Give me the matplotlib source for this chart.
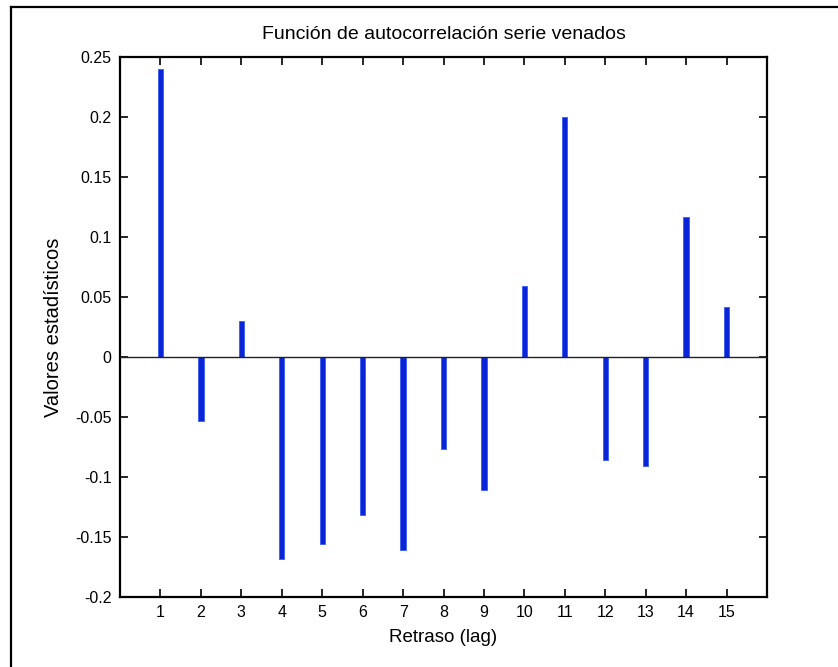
import numpy as np
import matplotlib
matplotlib.use('Agg')
import matplotlib.pyplot as plt
from matplotlib.lines import Line2D

# autocorrelation values
lags = [1, 2, 3, 4, 5, 6, 7, 8, 9, 10, 11, 12, 13, 14, 15]
acf = [0.240, -0.053, 0.030, -0.168, -0.156, -0.132, -0.161, -0.077,
       -0.111, 0.059, 0.200, -0.086, -0.091, 0.117, 0.042]
yticks = [-0.2, -0.15, -0.1, -0.05, 0, 0.05, 0.1, 0.15, 0.2, 0.25]
ylabels = ['-0.2', '-0.15', '-0.1', '-0.05', '0', '0.05', '0.1', '0.15', '0.2', '0.25']

plt.rcParams['font.family'] = ['Liberation Sans', 'DejaVu Sans']

fig = plt.figure(figsize=(8.38, 6.67), dpi=100)
ax = fig.add_axes([120/838, 1-597/667, (767-120)/838, (597-57)/667])

ax.bar(lags, acf, width=0.13, color='#0a24d8', edgecolor='#3a5cf5', linewidth=0.6, zorder=2)
ax.axhline(0, color='#222222', linewidth=1.0, zorder=3)

ax.set_xlim(0, 16)
ax.set_ylim(-0.2, 0.25)
ax.set_xticks(lags)
ax.set_yticks(yticks)
ax.set_yticklabels(ylabels)
ax.tick_params(direction='in', length=6, width=1.2, top=True, right=True,
               labelsize=11.5, pad=6, colors='black')
for s in ax.spines.values():
    s.set_linewidth(1.6)

ax.set_title('Función de autocorrelación serie venados', fontsize=14, pad=13)
ax.set_xlabel('Retraso (lag)', fontsize=13.5, labelpad=6)
ax.set_ylabel('Valores estadísticos', fontsize=14.5, labelpad=9)

# frame of the original figure (left and top edges only visible)
fig.add_artist(Line2D([11/838, 11/838], [0, 1-7/667], transform=fig.transFigure,
                      color='black', linewidth=1.6))
fig.add_artist(Line2D([11/838, 1], [1-7/667, 1-7/667], transform=fig.transFigure,
                      color='black', linewidth=1.6))

fig.savefig('out.png', dpi=100)
